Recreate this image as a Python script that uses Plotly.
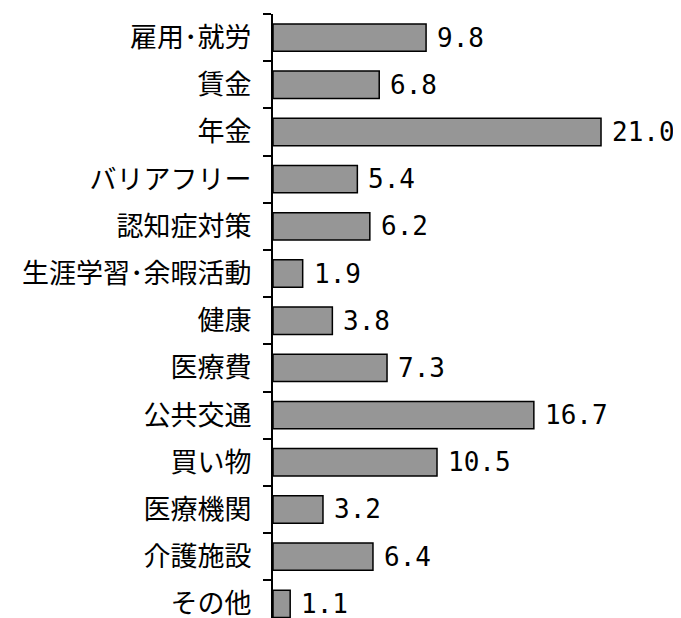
import plotly.graph_objects as go

categories = ["雇用･就労", "賃金", "年金", "バリアフリー", "認知症対策", "生涯学習･余暇活動",
              "健康", "医療費", "公共交通", "買い物", "医療機関", "介護施設", "その他"]
values = [9.8, 6.8, 21.0, 5.4, 6.2, 1.9, 3.8, 7.3, 16.7, 10.5, 3.2, 6.4, 1.1]
value_labels = [f"{v:.1f}" for v in values]

fig = go.Figure()
fig.add_trace(go.Bar(
    x=values, y=categories, orientation="h",
    marker=dict(color="#969696", line=dict(color="#000000", width=1.5)),
    width=0.58, hoverinfo="skip",
))

for v, c, t in zip(values, categories, value_labels):
    fig.add_annotation(x=v, y=c, text=t, showarrow=False, xanchor="left", yanchor="middle",
                       xshift=10, borderpad=0,
                       font=dict(family="DejaVu Sans Mono", size=26, color="#000000"))

# page body has an 8px default margin, so the figure is sized/offset to compensate
fig.update_layout(
    width=673, height=610,
    margin=dict(l=265, r=0, t=6, b=0, autoexpand=False),
    paper_bgcolor="white", plot_bgcolor="white",
    showlegend=False,
    xaxis=dict(range=[0, 408 / 15.62], visible=False, fixedrange=True, automargin=False),
    yaxis=dict(
        type="category", categoryorder="array", categoryarray=categories,
        range=[12.3, -0.5], showline=True, linecolor="#000000", linewidth=2,
        ticks="outside", ticklen=8, tickcolor="#000000", tickwidth=2,
        tickson="boundaries", showgrid=False, zeroline=False,
        ticklabelstandoff=14, automargin=False,
        tickfont=dict(family="Noto Sans CJK JP", size=27, color="#000000"),
        fixedrange=True,
    ),
)

fig.write_html("out.html")
